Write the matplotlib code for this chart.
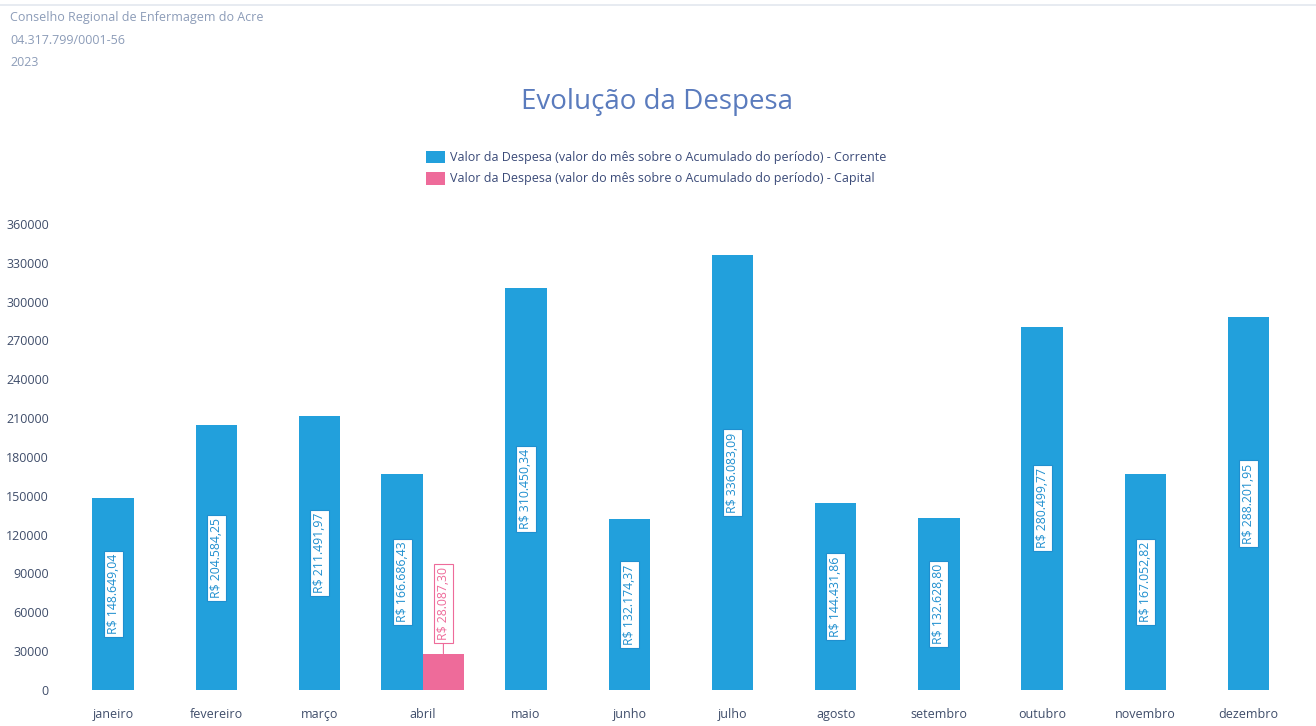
import matplotlib
matplotlib.use("Agg")
import matplotlib.pyplot as plt
from matplotlib.lines import Line2D
from matplotlib.patches import Patch
import numpy as np

plt.rcParams['font.family'] = ['Open Sans', 'DejaVu Sans']

header_lines = ["Conselho Regional de Enfermagem do Acre", "04.317.799/0001-56", "2023"]
title = "Evolução da Despesa"
months = ['janeiro', 'fevereiro', 'março', 'abril', 'maio', 'junho',
          'julho', 'agosto', 'setembro', 'outubro', 'novembro', 'dezembro']
corrente = [148649.04, 204584.25, 211491.97, 166686.43, 310450.34, 132174.37,
            336083.09, 144431.86, 132628.80, 280499.77, 167052.82, 288201.95]
capital = [0, 0, 0, 28087.30, 0, 0, 0, 0, 0, 0, 0, 0]
series_names = ["Valor da Despesa (valor do mês sobre o Acumulado do período) - Corrente",
                "Valor da Despesa (valor do mês sobre o Acumulado do período) - Capital"]
yticks = list(range(0, 360001, 30000))

blue = '#22a0dc'
pink = '#ee6b9a'
tick_color = '#3f4d6a'


def brl(v):
    s = f"{v:,.2f}"
    s = s.replace(',', 'X').replace('.', ',').replace('X', '.')
    return "R$ " + s


fig = plt.figure(figsize=(13.16, 7.26), dpi=100)
ax = fig.add_axes([0.0467, 0.0496, 0.9413, 0.6419])

w = 0.4
x = np.arange(len(months))
for i in range(len(months)):
    vals = [(corrente[i], blue, 0), (capital[i], pink, 1)]
    present = [v for v in vals if v[0] > 0]
    n = len(present)
    for k, (v, c, s) in enumerate(present):
        xc = i + (k - (n - 1) / 2) * w
        ax.bar(xc, v, width=w, color=c, edgecolor='none')
        if s == 0:
            ax.text(xc, v / 2, brl(v), rotation=90, ha='center', va='center',
                    fontsize=8.8, color='#1f8fcf',
                    bbox=dict(boxstyle='square,pad=0.25', facecolor='white',
                              edgecolor='#1f8fcf', linewidth=0.8))
        else:
            ax.annotate(brl(v), xy=(xc, v), xytext=(0, 10), textcoords='offset points',
                        rotation=90, ha='center', va='bottom', fontsize=8.8, color=pink,
                        bbox=dict(boxstyle='square,pad=0.25', facecolor='white',
                                  edgecolor=pink, linewidth=0.8),
                        arrowprops=dict(arrowstyle='-', color=pink, lw=0.8,
                                        shrinkA=0, shrinkB=0))

ax.set_xlim(-0.5, len(months) - 0.5)
ax.set_ylim(0, 360000)
ax.set_yticks(yticks)
ax.set_yticklabels([str(t) for t in yticks], fontsize=9, color=tick_color)
ax.set_xticks(x)
ax.set_xticklabels(months, fontsize=9, color=tick_color)
ax.tick_params(axis='both', length=0)
ax.tick_params(axis='y', pad=9)
ax.tick_params(axis='x', pad=13)
for sp in ax.spines.values():
    sp.set_visible(False)

# header
for j, line in enumerate(header_lines):
    fig.text(10 / 1316, 1 - (18 + j * 22) / 726, line, fontsize=9, color='#8c9cb8',
             ha='left', va='center')
fig.add_artist(Line2D([0, 1], [1 - 5 / 726, 1 - 5 / 726], color='#e3e8ef', lw=1.2))

fig.text(657 / 1316, 1 - 102 / 726, title, fontsize=20, color='#5a7bbd', ha='center', va='center')

handles = [Patch(facecolor=blue, edgecolor='none'), Patch(facecolor=pink, edgecolor='none')]
leg = fig.legend(handles, series_names, loc='center', bbox_to_anchor=(656 / 1316, 1 - 168 / 726),
                 frameon=False, fontsize=9, handlelength=1.5, handleheight=1.2,
                 labelspacing=0.6, handletextpad=0.4, borderpad=0, borderaxespad=0)
for t in leg.get_texts():
    t.set_color('#3a4a78')

fig.savefig('out.png', dpi=100, facecolor='white')
